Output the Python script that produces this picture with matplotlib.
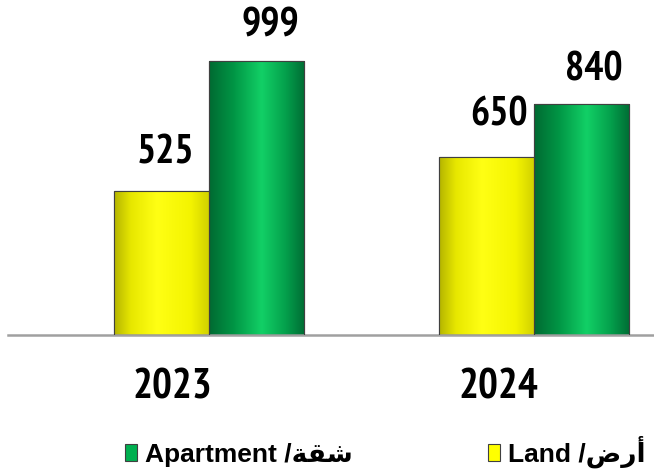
import matplotlib
matplotlib.use('Agg')
import matplotlib.pyplot as plt
from matplotlib.colors import LinearSegmentedColormap
from matplotlib.transforms import ScaledTranslation
import numpy as np

years = ["2023", "2024"]
land = [525, 650]
apartment = [999, 840]
# legend text: Arabic written in presentation forms, visual order (matplotlib does no shaping)
lbl_apartment = "Apartment /\uFE94\uFED8\uFEB7"
lbl_land = "Land /\uFEBD\uFEAD\uFE83"

NARROW = ['PT Sans Narrow', 'DejaVu Sans']
plt.rcParams['font.family'] = NARROW
plt.rcParams['font.weight'] = 'bold'

fig = plt.figure(figsize=(6.54, 4.74), dpi=100, facecolor='white')
ax = fig.add_axes([0.012, 0.2932, 0.988, 0.7068])

x = np.arange(len(years))
w = 0.293
b_land = ax.bar(x - w/2, land, w, color='#ffff00', edgecolor='#404040', lw=0.8, zorder=2)
b_apt = ax.bar(x + w/2, apartment, w, color='#00b050', edgecolor='#404040', lw=0.8, zorder=2)

# cylinder-ish horizontal gradient on each bar
cm_y = LinearSegmentedColormap.from_list('y', [(0, '#b4b400'), (0.18, '#e8e800'), (0.45, '#ffff14'),
                                               (0.8, '#f4f400'), (1, '#d0d000')])
cm_g = LinearSegmentedColormap.from_list('g', [(0, '#006a32'), (0.25, '#009444'), (0.55, '#12d066'),
                                               (0.8, '#04a04c'), (1, '#006c34')])
grad = np.linspace(0, 1, 256).reshape(1, -1)
for bars, cm in [(b_land, cm_y), (b_apt, cm_g)]:
    for p in bars:
        x0, h, bw = p.get_x(), p.get_height(), p.get_width()
        im = ax.imshow(grad, extent=[x0, x0 + bw, 0, h], aspect='auto', cmap=cm, zorder=2.5,
                       interpolation='bicubic')
        im.set_clip_path(p)
ax.bar(x - w/2, land, w, facecolor='none', edgecolor='#404040', lw=0.8, zorder=3)
ax.bar(x + w/2, apartment, w, facecolor='none', edgecolor='#404040', lw=0.8, zorder=3)

# value labels sit a bit right of the bar centre in the original
nudge = {525: (3, 20), 999: (10, 18), 650: (9, 22), 840: (9, 17.5)}
for bars, vals in [(b_land, land), (b_apt, apartment)]:
    for p, v in zip(bars, vals):
        ax.annotate(str(v), (p.get_x() + p.get_width()/2, p.get_height()), xytext=nudge[v],
                    textcoords='offset points', ha='center', va='baseline', fontsize=29,
                    fontweight='bold', color='black')

ax.set_xlim(-0.618, 1.369)
ax.set_ylim(0, 1220)
ax.set_xticks(x, years)
ax.tick_params(axis='x', length=0, pad=24, labelsize=30)
shift = ScaledTranslation(-36/100, 0, fig.dpi_scale_trans)
for t in ax.get_xticklabels():
    t.set_transform(t.get_transform() + shift)
ax.set_yticks([])
for s in ['left', 'right', 'top']:
    ax.spines[s].set_visible(False)
ax.spines['bottom'].set_color('#a0a0a0')
ax.spines['bottom'].set_linewidth(1.8)
ax.set_facecolor('white')

leg = fig.legend([b_apt, b_land], [lbl_apartment, lbl_land], ncol=2, loc='center left',
                 bbox_to_anchor=(125/654, 1 - 452/474), frameon=False,
                 prop={'family': ['Liberation Sans', 'DejaVu Sans'], 'weight': 'bold', 'size': 19},
                 handlelength=0.45, handleheight=0.62, handletextpad=0.3, columnspacing=5.15,
                 borderpad=0, borderaxespad=0)

fig.savefig('out.png', dpi=100, facecolor='white')
